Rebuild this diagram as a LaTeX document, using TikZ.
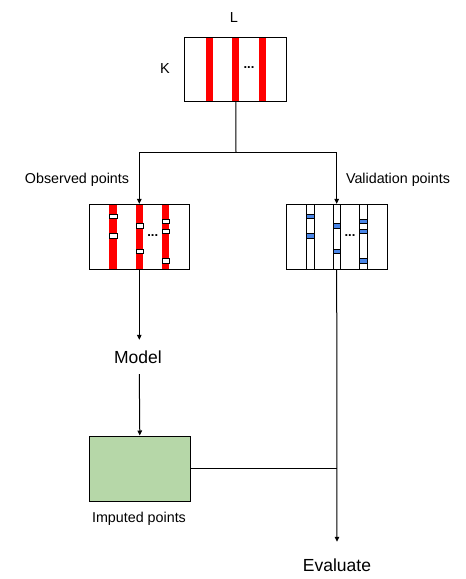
\documentclass[tikz,border=0pt]{standalone}
\usepackage{fontspec}
\setmainfont{Liberation Sans}
\usetikzlibrary{arrows.meta}
\definecolor{barred}{RGB}{255,0,0}
\definecolor{barblue}{RGB}{74,134,232}
\definecolor{boxgreen}{RGB}{182,215,168}
\begin{document}
\begin{tikzpicture}[x=1pt,y=-1pt,
  box/.style={draw=black,line width=1pt,inner sep=0pt,minimum width=#1},
  lbl/.style={font=\fontsize{14.3}{16}\selectfont,inner sep=0pt},
  big/.style={font=\fontsize{17.5}{19}\selectfont,inner sep=0pt},
  arr/.style={line width=1pt,-{Triangle[length=5pt,width=4.5pt]}},
  con/.style={line width=1pt},
  gap/.style={fill=white,draw=black,line width=0.6pt},
  blu/.style={fill=barblue,draw=black,line width=0.6pt},
  dots/.style={font=\fontsize{13}{13}\selectfont\bfseries,inner sep=0pt}]
\useasboundingbox (0,0) rectangle (466,579);
% top box
\fill[barred] (206,37.3) rectangle (213.3,101.7);
\fill[barred] (232.3,37.3) rectangle (239.3,101.7);
\fill[barred] (258.7,37.3) rectangle (266,101.7);
\node[box=101.7pt,minimum height=64.4pt] (top) at (235.8,69.5) {};
\node[dots] (tdots) at (249,68) {...};
\node[lbl,font=\fontsize{14.5}{16}\selectfont] (L) at (234,18) {L};
\node[lbl,font=\fontsize{14.5}{16}\selectfont] (K) at (165,69) {K};
% observed box
\foreach \a/\b in {109.3/117.3,136/143.3,162.3/169.3}
  \fill[barred] (\a,204.3) rectangle (\b,269);
\draw[gap] (109.3,214.3) rectangle (117.3,218.3);
\draw[gap] (109.3,233.3) rectangle (117.3,238.3);
\draw[gap] (136,223.3) rectangle (143.3,228.3);
\draw[gap] (136,249) rectangle (143.3,253.3);
\draw[gap] (162.3,219) rectangle (169.3,223.3);
\draw[gap] (162.3,229) rectangle (169.3,233.3);
\draw[gap] (162.3,258.3) rectangle (169.3,263.3);
\node[box=100pt,minimum height=64.7pt] (obs) at (139.3,236.7) {};
\node[dots] (odots) at (152.7,236) {...};
% validation box
\foreach \a/\b in {306.7/314.3,333.3/340.7,359.3/367.3}
  \draw[line width=1pt] (\a,204.3) rectangle (\b,269);
\draw[blu] (306.7,214.3) rectangle (314.3,218.3);
\draw[blu] (306.7,233.3) rectangle (314.3,238.3);
\draw[blu] (333.3,223.3) rectangle (340.7,228.3);
\draw[blu] (333.3,249) rectangle (340.7,253.3);
\draw[blu] (359.3,219) rectangle (367.3,223.3);
\draw[blu] (359.3,229) rectangle (367.3,233.3);
\draw[blu] (359.3,258.3) rectangle (367.3,263.3);
\node[box=101.3pt,minimum height=64.7pt] (val) at (336.7,236.7) {};
\node[dots] (vdots) at (350,236) {...};
% labels
\node[lbl] (olbl) at (77,180) {Observed points};
\node[lbl] (vlbl) at (398,180) {Validation points};
\node[big,minimum height=34pt] (model) at (138,357) {Model};
\node[box=101pt,minimum height=65pt,fill=boxgreen] (green) at (139.8,468.5) {};
\node[lbl] (ilbl) at (139,519) {Imputed points};
\node[big,minimum height=46pt] (eval) at (337,565) {Evaluate};
% connectors
\coordinate (j) at (236,152);
\draw[con] (top.south) -- (j);
\draw[arr] (j) -| (obs.north);
\draw[arr] (j) -| (val.north);
\draw[arr] (obs.south) -- (obs.south |- model.north);
\draw[arr] (obs.south |- model.south) -- (green.north);
\draw[arr] (val.south) -- (eval.north);
\draw[con] (green.east) -- (green.east -| val.south);
\end{tikzpicture}
\end{document}
